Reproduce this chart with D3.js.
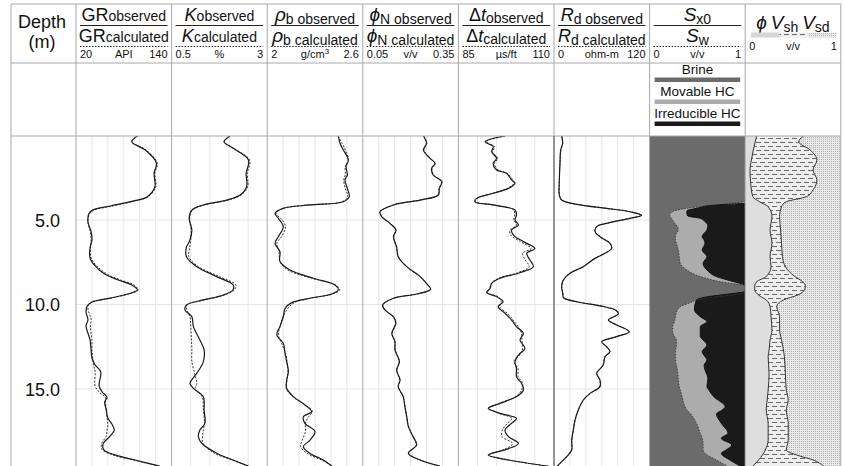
<!DOCTYPE html>
<html>
<head>
<meta charset="utf-8">
<script src="https://cdn.jsdelivr.net/npm/d3@7"></script>
<style>
  body { margin: 0; background: #fff; }
  svg { display: block; font-family: "Liberation Sans", Arial, Helvetica, sans-serif; }
</style>
</head>
<body>
<svg id="chart" width="845" height="466"></svg>
<script>
/*global d3 */
(function () {
  "use strict";

  // ---- data (depth in m) ----
  var depthTicks = [5, 10, 15];

  var grDepth = [0.0, 0.37, 0.86, 1.63, 2.22, 3.05, 3.64, 3.88, 4.17, 4.41, 4.64, 5.12, 5.71, 6.18, 6.66, 7.25, 7.72, 8.2, 8.55, 8.85, 9.14, 9.38, 9.62, 9.85, 10.09, 10.44, 10.9, 11.27, 11.7, 12.1, 12.7, 13.16, 13.58, 13.98, 14.82, 15.18, 15.5, 15.77, 16.24, 16.72, 17.07, 17.43, 17.78, 18.25, 18.6, 18.9, 19.2, 19.56];
  var grObs = [98, 90, 107, 121, 118, 119, 109, 91.5, 63, 41, 36, 35, 39, 40, 37.6, 37.6, 44, 56, 73, 90, 97, 85, 63, 40, 34, 32.6, 35, 32.6, 35, 37.6, 39, 40, 44, 51, 49, 53, 59, 56, 58, 60, 65, 68, 63, 54, 55, 69, 94, 125];
  var grCalc = [98, 90, 108, 122, 119, 120, 110, 93, 66, 43, 37, 35, 38, 39, 38, 39, 46, 59, 76, 93, 98, 86, 64, 41, 35, 36, 39, 38, 39, 40, 40, 41, 42, 44, 44, 49, 57, 57, 58, 59, 60, 59, 58, 52, 53, 66, 92, 124];

  var kDepth = [0.03, 0.37, 0.76, 1.45, 2.24, 3.03, 3.52, 3.82, 4.11, 4.41, 4.9, 5.59, 6.18, 6.68, 7.17, 7.76, 8.35, 8.85, 9.14, 9.44, 9.73, 10.03, 10.33, 10.72, 11.31, 12.1, 12.69, 13.38, 14.07, 14.66, 14.96, 15.46, 16.24, 17.03, 17.43, 17.82, 18.21, 18.8, 19.2, 19.56];
  var kObs = [2.03, 1.87, 2.11, 2.51, 2.45, 2.46, 2.29, 1.94, 1.33, 1.03, 0.96, 1.03, 0.98, 0.88, 0.89, 1.16, 1.68, 2.11, 2.1, 1.85, 1.33, 0.89, 0.85, 1.03, 1.07, 1.24, 1.35, 1.33, 1.16, 0.98, 1.07, 1.33, 1.35, 1.37, 1.24, 1.2, 1.29, 1.68, 2.11, 2.51];
  var kCalc = [2.03, 1.88, 2.13, 2.54, 2.48, 2.49, 2.32, 1.98, 1.36, 1.05, 0.97, 1.01, 1.0, 0.97, 0.95, 1.2, 1.75, 2.18, 2.14, 1.88, 1.36, 0.9, 0.9, 0.98, 1.0, 1.02, 1.03, 1.03, 1.1, 1.16, 1.12, 1.3, 1.33, 1.36, 1.33, 1.31, 1.32, 1.62, 2.08, 2.5];

  var rhoDepth = [0.03, 0.46, 0.86, 1.45, 1.84, 2.34, 2.63, 3.13, 3.62, 3.92, 4.11, 4.31, 4.61, 4.9, 5.39, 5.99, 6.38, 6.87, 7.46, 7.96, 8.45, 8.85, 9.14, 9.38, 9.63, 9.89, 10.23, 10.72, 11.31, 11.8, 12.3, 12.89, 13.38, 13.97, 14.47, 14.96, 15.45, 15.95, 16.34, 16.64, 17.03, 17.52, 18.02, 18.41, 18.81, 19.2, 19.56];
  var rhoObs = [2.446, 2.457, 2.478, 2.509, 2.495, 2.503, 2.488, 2.503, 2.515, 2.478, 2.269, 2.101, 2.049, 2.07, 2.101, 2.07, 2.049, 2.08, 2.08, 2.143, 2.29, 2.426, 2.446, 2.405, 2.269, 2.154, 2.112, 2.101, 2.08, 2.06, 2.101, 2.112, 2.122, 2.133, 2.122, 2.122, 2.164, 2.237, 2.279, 2.227, 2.237, 2.3, 2.269, 2.227, 2.269, 2.352, 2.405];
  var rhoCalc = [2.446, 2.47, 2.49, 2.51, 2.49, 2.49, 2.48, 2.49, 2.505, 2.47, 2.26, 2.1, 2.055, 2.085, 2.115, 2.09, 2.06, 2.075, 2.08, 2.13, 2.28, 2.43, 2.455, 2.41, 2.27, 2.17, 2.13, 2.1, 2.08, 2.07, 2.09, 2.115, 2.125, 2.13, 2.125, 2.12, 2.16, 2.24, 2.285, 2.26, 2.24, 2.24, 2.22, 2.21, 2.25, 2.34, 2.41];

  var phinDepth = [0.03, 0.46, 0.86, 1.35, 1.65, 1.94, 2.34, 2.73, 3.13, 3.52, 3.82, 4.11, 4.51, 4.8, 5.2, 5.59, 5.99, 6.58, 7.17, 7.76, 8.35, 8.75, 9.1, 9.38, 9.63, 10.03, 10.33, 10.72, 11.11, 11.71, 12.2, 12.69, 13.38, 13.88, 14.47, 14.86, 15.45, 16.05, 16.64, 17.23, 17.82, 18.31, 18.81, 19.2, 19.56];
  var phinObs = [0.24, 0.25, 0.24, 0.261, 0.277, 0.266, 0.271, 0.298, 0.29, 0.287, 0.23, 0.146, 0.104, 0.109, 0.135, 0.154, 0.146, 0.156, 0.161, 0.188, 0.23, 0.25, 0.263, 0.219, 0.146, 0.112, 0.12, 0.146, 0.154, 0.141, 0.151, 0.151, 0.165, 0.156, 0.167, 0.161, 0.177, 0.182, 0.188, 0.193, 0.208, 0.219, 0.193, 0.23, 0.292];
  var phinCalc = [0.241, 0.251, 0.242, 0.262, 0.276, 0.267, 0.272, 0.297, 0.29, 0.286, 0.228, 0.147, 0.105, 0.11, 0.135, 0.153, 0.147, 0.155, 0.162, 0.187, 0.229, 0.249, 0.262, 0.22, 0.148, 0.113, 0.121, 0.145, 0.153, 0.142, 0.15, 0.152, 0.164, 0.157, 0.166, 0.162, 0.176, 0.183, 0.187, 0.194, 0.207, 0.218, 0.194, 0.229, 0.29];

  var dtDepth = [0.03, 0.37, 0.66, 0.96, 1.35, 1.65, 2.04, 2.24, 2.63, 2.83, 3.13, 3.42, 3.72, 3.92, 4.11, 4.41, 4.71, 5.0, 5.3, 5.59, 5.89, 6.28, 6.68, 6.97, 7.37, 7.76, 8.12, 8.45, 8.75, 9.04, 9.3, 9.53, 9.83, 10.13, 10.52, 10.92, 11.31, 11.71, 12.1, 12.59, 12.99, 13.38, 13.78, 14.27, 14.66, 15.06, 15.45, 15.85, 16.14, 16.44, 16.74, 17.03, 17.43, 17.82, 18.22, 18.57, 18.91, 19.2, 19.56];
  var dtObs = [97.2, 92, 94.1, 93.7, 95, 94.1, 95, 97.6, 98.9, 99.8, 98.1, 94.1, 89.8, 89.3, 94.1, 99.8, 100.2, 99.8, 100.7, 98.9, 99.4, 102, 105, 102.9, 103.7, 104.6, 101.1, 95.9, 93.7, 93.3, 92.4, 95, 96.7, 95.4, 97.2, 98.9, 100.2, 102, 101.1, 102.4, 100.7, 99.8, 100.2, 100.2, 101.5, 102, 100.2, 95.9, 92.8, 95.9, 100.2, 98.9, 97.2, 98.1, 100.7, 97.6, 92.8, 98.1, 108.5];
  var dtCalc = [97.2, 92.3, 94.5, 93.9, 95.3, 94.4, 95.4, 97.8, 99.2, 99.5, 97.8, 94, 89.9, 89.5, 94, 99.5, 99.7, 99.5, 100.2, 98.5, 98.7, 101.2, 104, 101.8, 102.5, 103.5, 100.5, 95.5, 93.6, 93.2, 92.5, 95.2, 96.2, 95.8, 97.8, 99.3, 100.6, 101.5, 101.6, 101.8, 101, 99.5, 100.6, 100.6, 101.8, 101.5, 100, 95.6, 93, 95.6, 99, 97.8, 96.5, 96.4, 99.2, 97, 93, 98, 108];

  var rdDepth = [0.03, 0.46, 0.86, 1.65, 2.63, 3.52, 3.82, 4.11, 4.31, 4.51, 4.72, 4.9, 5.2, 5.39, 5.69, 5.99, 6.38, 6.68, 6.97, 7.27, 7.76, 8.15, 8.55, 8.94, 9.34, 9.6, 9.85, 10.1, 10.35, 10.56, 10.92, 11.21, 11.61, 11.9, 12.2, 12.5, 12.79, 13.09, 13.58, 14.07, 14.47, 14.86, 15.26, 15.65, 16.24, 16.83, 17.43, 18.02, 18.61, 19.0, 19.4, 19.56];
  var rdObs = [9.6, 10.9, 8.4, 7.5, 6.7, 6.7, 9.6, 32.6, 66, 95.4, 110, 95.4, 66, 53.6, 51.5, 57.7, 70.3, 72.4, 64, 51.5, 36.8, 20.1, 11.7, 9.6, 11, 12, 30, 60, 78, 80.7, 68.2, 78.7, 94.5, 78.7, 59.9, 66, 70.3, 64, 61.9, 53.6, 57.7, 57.7, 45.2, 36.8, 30.5, 26.4, 24.2, 22.2, 22.2, 15.9, 7.5, 4];
  var rdCalc = [9.7, 10.8, 8.5, 7.5, 6.8, 6.8, 9.8, 33, 66.5, 95.8, 109.5, 95, 65.5, 53.4, 51.8, 58, 70.5, 72, 63.6, 51.2, 36.5, 20.3, 11.9, 9.7, 11.2, 12.2, 30.4, 60.4, 78.2, 80.4, 68.5, 78.9, 94.1, 78.4, 60.2, 66.2, 70.1, 63.8, 61.6, 53.9, 57.5, 57.4, 45.5, 37, 30.7, 26.6, 24.4, 22.4, 22, 16.2, 7.7, 4.2];

  var satDepth = [0, 3.9, 4.01, 4.13, 4.31, 4.46, 4.6, 4.76, 4.9, 5.1, 5.3, 5.59, 5.79, 5.99, 6.18, 6.38, 6.78, 7.17, 7.56, 7.96, 8.35, 8.65, 8.79, 8.87, 9.22, 9.4, 9.55, 9.73, 9.9, 10.13, 10.33, 10.72, 11.02, 11.31, 11.6, 11.9, 12.1, 12.4, 12.79, 13.09, 13.28, 13.6, 13.88, 14.37, 14.86, 15.06, 15.45, 16.05, 16.24, 16.48, 17.03, 17.62, 17.92, 18.31, 18.61, 18.81, 19.2, 19.56];
  var swVals = [1, 1, 0.86, 0.66, 0.39, 0.26, 0.22, 0.21, 0.23, 0.25, 0.28, 0.3, 0.28, 0.27, 0.27, 0.28, 0.3, 0.31, 0.32, 0.39, 0.53, 0.74, 0.9, 1, 1, 0.92, 0.67, 0.5, 0.42, 0.32, 0.29, 0.27, 0.26, 0.24, 0.24, 0.26, 0.28, 0.28, 0.27, 0.27, 0.27, 0.28, 0.29, 0.3, 0.31, 0.32, 0.34, 0.37, 0.39, 0.43, 0.49, 0.53, 0.55, 0.56, 0.56, 0.58, 0.7, 0.81];
  var sxoVals = [1, 1, 1, 0.67, 0.49, 0.39, 0.39, 0.4, 0.53, 0.58, 0.61, 0.6, 0.57, 0.55, 0.57, 0.58, 0.55, 0.6, 0.56, 0.6, 0.7, 0.88, 0.97, 1, 1, 0.8, 0.6, 0.49, 0.48, 0.47, 0.47, 0.53, 0.6, 0.53, 0.53, 0.53, 0.56, 0.6, 0.55, 0.58, 0.6, 0.57, 0.58, 0.61, 0.6, 0.62, 0.67, 0.79, 0.76, 0.7, 0.75, 0.82, 0.75, 0.86, 0.8, 0.75, 0.84, 0.95];

  var lithDepth = [0.03, 0.37, 0.86, 1.45, 2.04, 2.63, 3.22, 3.62, 3.92, 4.21, 4.8, 5.59, 6.38, 7.17, 7.76, 8.35, 8.65, 8.9, 9.14, 9.44, 9.73, 10.13, 10.72, 11.51, 12.1, 12.69, 13.09, 14.07, 15.06, 15.65, 16.24, 17.03, 18.02, 18.61, 18.91, 19.2, 19.56];
  var phiVals = [0.12, 0.105, 0.085, 0.065, 0.05, 0.055, 0.065, 0.08, 0.15, 0.24, 0.28, 0.26, 0.28, 0.26, 0.27, 0.22, 0.12, 0.1, 0.1, 0.14, 0.22, 0.26, 0.27, 0.28, 0.26, 0.25, 0.24, 0.25, 0.24, 0.23, 0.22, 0.24, 0.24, 0.21, 0.18, 0.14, 0.08];
  var vshVals = [0.49, 0.455, 0.595, 0.685, 0.66, 0.695, 0.645, 0.56, 0.28, 0.14, 0.08, 0.11, 0.1, 0.13, 0.15, 0.3, 0.48, 0.53, 0.52, 0.41, 0.18, 0.07, 0.09, 0.08, 0.12, 0.15, 0.17, 0.17, 0.19, 0.22, 0.21, 0.21, 0.21, 0.22, 0.36, 0.57, 0.74];

  var legendLabels = ["Brine", "Movable HC", "Irreducible HC"];
  var legendColors = ["#6b6b6b", "#acacac", "#1a1a1a"];

  // ---- layout ----
  var svg = d3.select("#chart");
  var frameL = 11, frameT = 4, headB = 63, legB = 136, bottom = 466;
  var x0 = 76, tw = 95.6, nTracks = 8;
  var frameR = x0 + nTracks * tw;
  function tl(i) { return x0 + i * tw; }

  var y = d3.scaleLinear().domain([0, 19.5]).range([135.5, 135.5 + 16.9 * 19.5]);

  var tracks = [
    { main: [{ t: "GR", s: 18 }], sub: "observed", sub2: "calculated", dy: 0,
      dom: [20, 140], unit: "API", lo: "20", hi: "140", grid: 6, depth: grDepth, obs: grObs, calc: grCalc },
    { main: [{ t: "K", s: 18, it: true }], sub: "observed", sub2: "calculated", dy: 0,
      dom: [0.5, 3], unit: "%", lo: "0.5", hi: "3", grid: 5, depth: kDepth, obs: kObs, calc: kCalc },
    { main: [{ t: "\u03C1", s: 19, it: true }], sub: "b observed", sub2: "b calculated", dy: 3,
      dom: [2, 2.6], unit: "g/cm", sup: "3", lo: "2", hi: "2.6", grid: 6, depth: rhoDepth, obs: rhoObs, calc: rhoCalc },
    { main: [{ t: "\u03D5", s: 19, it: true }], sub: "N observed", sub2: "N calculated", dy: 3,
      dom: [0.05, 0.35], unit: "v/v", lo: "0.05", hi: "0.35", grid: 6, depth: phinDepth, obs: phinObs, calc: phinCalc },
    { main: [{ t: "\u0394", s: 18 }, { t: "t", s: 18, it: true }], sub: "observed", sub2: "calculated", dy: 1.5,
      dom: [85, 110], unit: "\u00B5s/ft", lo: "85", hi: "110", grid: 5, depth: dtDepth, obs: dtObs, calc: dtCalc },
    { main: [{ t: "R", s: 18, it: true }], sub: "d observed", sub2: "d calculated", dy: 3,
      dom: [0, 120], unit: "ohm-m", lo: "0", hi: "120", grid: 6, depth: rdDepth, obs: rdObs, calc: rdCalc }
  ];

  var defs = svg.append("defs");
  defs.append("clipPath").attr("id", "plotClip")
    .append("rect").attr("x", x0).attr("y", legB).attr("width", frameR - x0).attr("height", bottom - legB);

  var shale = defs.append("pattern").attr("id", "shale").attr("patternUnits", "userSpaceOnUse")
    .attr("width", 8).attr("height", 8);
  shale.append("rect").attr("width", 8).attr("height", 8).attr("fill", "#eeeeee");
  [[0, 5, 2.5], [4, 8, 6.5], [0, 1, 6.5]].forEach(function (s) {
    shale.append("line").attr("x1", s[0]).attr("x2", s[1]).attr("y1", s[2]).attr("y2", s[2])
      .attr("stroke", "#6a6a6a").attr("stroke-width", 1);
  });

  var sand = defs.append("pattern").attr("id", "sand").attr("patternUnits", "userSpaceOnUse")
    .attr("width", 2).attr("height", 2);
  sand.append("rect").attr("width", 2).attr("height", 2).attr("fill", "#ebebeb");
  sand.append("rect").attr("x", 1).attr("y", 1).attr("width", 1).attr("height", 1).attr("fill", "#adadad");

  var plot = svg.append("g").attr("clip-path", "url(#plotClip)");

  // horizontal depth grid across the curve tracks
  plot.selectAll(".hgrid").data(depthTicks).enter().append("line")
    .attr("x1", x0).attr("x2", tl(6))
    .attr("y1", function (d) { return y(d); }).attr("y2", function (d) { return y(d); })
    .attr("stroke", "#e6e6e6").attr("stroke-width", 1);

  function zip(depth, vals) {
    return depth.map(function (d, i) { return { d: d, v: vals[i] }; });
  }

  tracks.forEach(function (t, i) {
    var xs = d3.scaleLinear().domain(t.dom).range([tl(i), tl(i + 1)]);
    var gl = xs.ticks(t.grid).filter(function (v) {
      return Math.abs(v - t.dom[0]) > 1e-9 && Math.abs(v - t.dom[1]) > 1e-9;
    });
    plot.selectAll(null).data(gl).enter().append("line")
      .attr("x1", function (v) { return xs(v); }).attr("x2", function (v) { return xs(v); })
      .attr("y1", legB).attr("y2", bottom)
      .attr("stroke", "#e6e6e6").attr("stroke-width", 1);

    var line = d3.line()
      .x(function (d) { return xs(d.v); })
      .y(function (d) { return y(d.d); })
      .curve(d3.curveCatmullRom.alpha(0.5));

    plot.append("path").datum(zip(t.depth, t.calc)).attr("d", line)
      .attr("fill", "none").attr("stroke", "#333").attr("stroke-width", 1)
      .attr("stroke-dasharray", "2,1.5");
    plot.append("path").datum(zip(t.depth, t.obs)).attr("d", line)
      .attr("fill", "none").attr("stroke", "#1a1a1a").attr("stroke-width", 1.2);
  });

  // ---- saturation track ----
  var sx = d3.scaleLinear().domain([0, 1]).range([tl(6), tl(7)]);
  var sat = satDepth.map(function (d, i) { return { d: d, sw: swVals[i], sxo: sxoVals[i] }; });
  plot.append("rect").attr("x", tl(6)).attr("y", legB).attr("width", tw).attr("height", bottom - legB)
    .attr("fill", legendColors[0]);
  plot.append("path").datum(sat)
    .attr("d", d3.area().curve(d3.curveMonotoneY)
      .y(function (d) { return y(d.d); })
      .x0(function (d) { return sx(d.sw); })
      .x1(function () { return sx(1); }))
    .attr("fill", legendColors[1]);
  plot.append("path").datum(sat)
    .attr("d", d3.area().curve(d3.curveMonotoneY)
      .y(function (d) { return y(d.d); })
      .x0(function (d) { return sx(d.sxo); })
      .x1(function () { return sx(1); }))
    .attr("fill", legendColors[2]);
  var inZone = function (key) {
    return function (d, i) {
      var a = sat[i - 1], b = sat[i + 1];
      return d[key] < 1 || (a && a[key] < 1) || (b && b[key] < 1);
    };
  };
  plot.append("path").datum(sat)
    .attr("d", d3.line().curve(d3.curveMonotoneY).defined(inZone("sw"))
      .x(function (d) { return sx(d.sw); }).y(function (d) { return y(d.d); }))
    .attr("fill", "none").attr("stroke", "#3a3a3a").attr("stroke-width", 1).attr("stroke-dasharray", "1.5,1.5");
  plot.append("path").datum(sat)
    .attr("d", d3.line().curve(d3.curveMonotoneY).defined(inZone("sxo"))
      .x(function (d) { return sx(d.sxo); }).y(function (d) { return y(d.d); }))
    .attr("fill", "none").attr("stroke", "#111").attr("stroke-width", 1);

  // ---- lithology track ----
  var lx = d3.scaleLinear().domain([0, 1]).range([tl(7), tl(8)]);
  var lith = lithDepth.map(function (d, i) { return { d: d, phi: phiVals[i], sh: phiVals[i] + vshVals[i] }; });
  plot.append("rect").attr("x", tl(7)).attr("y", legB).attr("width", tw).attr("height", bottom - legB)
    .attr("fill", "url(#sand)");
  plot.append("path").datum(lith)
    .attr("d", d3.area().curve(d3.curveMonotoneY)
      .y(function (d) { return y(d.d); })
      .x0(function (d) { return lx(d.phi); })
      .x1(function (d) { return lx(d.sh); }))
    .attr("fill", "url(#shale)");
  plot.append("path").datum(lith)
    .attr("d", d3.area().curve(d3.curveMonotoneY)
      .y(function (d) { return y(d.d); })
      .x0(function () { return lx(0); })
      .x1(function (d) { return lx(d.phi); }))
    .attr("fill", "#dedede");
  ["phi", "sh"].forEach(function (k) {
    plot.append("path").datum(lith)
      .attr("d", d3.line().curve(d3.curveMonotoneY)
        .x(function (d) { return lx(d[k]); }).y(function (d) { return y(d.d); }))
      .attr("fill", "none").attr("stroke", "#333").attr("stroke-width", 1);
  });

  // ---- frame ----
  var frame = svg.append("g").attr("stroke", "#a8a8a8").attr("stroke-width", 1);
  [frameT, headB, legB].forEach(function (yy) {
    frame.append("line").attr("x1", frameL).attr("x2", frameR).attr("y1", yy).attr("y2", yy);
  });
  frame.append("line").attr("x1", frameL).attr("x2", frameL).attr("y1", frameT).attr("y2", bottom);
  d3.range(nTracks + 1).forEach(function (i) {
    frame.append("line").attr("x1", tl(i)).attr("x2", tl(i)).attr("y1", frameT).attr("y2", bottom);
  });
  svg.append("line").attr("x1", tl(5)).attr("x2", tl(5)).attr("y1", legB).attr("y2", bottom)
    .attr("stroke", "#555").attr("stroke-width", 1);

  // ---- headers ----
  var hdr = svg.append("g").attr("fill", "#111");

  function label(cx, by, parts) {
    var txt = hdr.append("text").attr("x", cx).attr("y", by).attr("text-anchor", "middle");
    parts.forEach(function (p) {
      txt.append("tspan").text(p.t)
        .attr("font-size", p.s)
        .attr("font-style", p.it ? "italic" : null)
        .attr("dy", p.dy || null);
    });
    return txt;
  }

  hdr.append("text").attr("x", 42).attr("y", 27.5).attr("text-anchor", "middle").attr("font-size", 18).text("Depth");
  hdr.append("text").attr("x", 42).attr("y", 48).attr("text-anchor", "middle").attr("font-size", 18).text("(m)");

  function scaleRow(i, lo, unit, hi, sup, by) {
    var a = tl(i), b = tl(i + 1);
    hdr.append("text").attr("x", a + 4).attr("y", by).attr("font-size", 11).text(lo);
    var u = hdr.append("text").attr("x", (a + b) / 2).attr("y", by).attr("font-size", 11)
      .attr("text-anchor", "middle").text(unit);
    if (sup) {
      u.append("tspan").attr("dy", -4).attr("font-size", 8).text(sup);
    }
    hdr.append("text").attr("x", b - 4).attr("y", by).attr("font-size", 11)
      .attr("text-anchor", "end").text(hi);
  }

  function rules(i) {
    var a = tl(i) + 4, b = tl(i + 1) - 4;
    hdr.append("line").attr("x1", a).attr("x2", b).attr("y1", 25.5).attr("y2", 25.5)
      .attr("stroke", "#222").attr("stroke-width", 1);
    hdr.append("line").attr("x1", a).attr("x2", b).attr("y1", 46.5).attr("y2", 46.5)
      .attr("stroke", "#222").attr("stroke-width", 1).attr("stroke-dasharray", "1.5,1.5");
  }

  tracks.forEach(function (t, i) {
    var cx = tl(i) + tw / 2;
    label(cx, 21, t.main.concat([{ t: t.sub, s: 14, dy: t.dy }]));
    label(cx, 42, t.main.concat([{ t: t.sub2, s: 14, dy: t.dy }]));
    rules(i);
    scaleRow(i, t.lo, t.unit, t.hi, t.sup, 57.5);
  });

  // saturation header + legend
  var cs = tl(6) + tw / 2;
  label(cs, 21, [{ t: "S", s: 19, it: true }, { t: "x0", s: 14, dy: 3 }]);
  label(cs, 42, [{ t: "S", s: 19, it: true }, { t: "w", s: 14, dy: 3 }]);
  rules(6);
  scaleRow(6, "0", "v/v", "1", null, 57.5);

  legendLabels.forEach(function (lab, k) {
    var base = 74 + k * 22;
    hdr.append("text").attr("x", cs).attr("y", base).attr("text-anchor", "middle")
      .attr("font-size", 13.5).text(lab);
    hdr.append("rect").attr("x", tl(6) + 5).attr("y", base + 3.5).attr("width", tw - 10).attr("height", 4.5)
      .attr("fill", legendColors[k]);
  });

  // lithology header
  var cl = tl(7) + tw / 2;
  label(cl, 29, [{ t: "\u03D5", s: 19, it: true }, { t: "\u00A0", s: 14 }, { t: "V", s: 19, it: true },
    { t: "sh", s: 14, dy: 3 }, { t: " ", s: 14, dy: -3 }, { t: "V", s: 19, it: true }, { t: "sd", s: 14, dy: 3 }]);
  var barX = tl(7) + 6, barW = tw - 10, segW = barW / 3;
  ["#d6d6d6", "url(#shale)", "url(#sand)"].forEach(function (f, k) {
    hdr.append("rect").attr("x", barX + k * segW).attr("y", 32.5).attr("width", segW).attr("height", 5)
      .attr("fill", f);
  });
  scaleRow(7, "0", "v/v", "1", null, 49.5);

  // depth labels
  hdr.selectAll(".dlab").data(depthTicks).enter().append("text")
    .attr("x", 60).attr("y", function (d) { return y(d) + 6.5; })
    .attr("text-anchor", "end").attr("font-size", 18)
    .text(function (d) { return d.toFixed(1); });
})();
</script>
</body>
</html>
